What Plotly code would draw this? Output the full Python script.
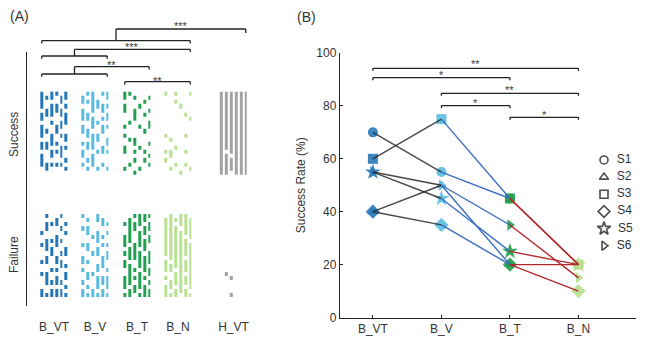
import plotly.graph_objects as go

# ---------------- data ----------------
# Panel A: per-trial outcome (1 = success, 0 = failure), 6 subjects x 20 trials per group
groups_a = ["B_VT", "B_V", "B_T", "B_N", "H_VT"]
bvt_trials = [
    "11110110111011011100",
    "01001100010011000110",
    "11011101001110110100",
    "10011000110010100100",
    "01101101101001110100",
    "11010111001101001010",
]
bv_trials = [
    "01101110110010110100",
    "10100110011011001010",
    "11111011101111011100",
    "00110001001100100010",
    "10011010110001100100",
    "11010110100110100010",
]
bt_trials = [
    "11011000101001100010",
    "10000001000100000100",
    "01001110000110101001",
    "00010000100001000010",
    "00100100010000101000",
    "01001001100010010100",
]
bn_trials = [
    "10000000001000101000",
    "00000000000100110010",
    "10100000000001000100",
    "00010000000000000001",
    "00000100001000100100",
    "10000010000000000010",
]
hvt_trials = [
    "11111111111111111111",
    "11111111111111011111",
    "11111111111111101110",
    "11111111111111111111",
    "11111111111111111111",
    "11111111111111111111",
]
sig_a = ["***", "***", "**", "**"]

# Panel B: success rate (%) per subject per condition
conditions = ["B_VT", "B_V", "B_T", "B_N"]
subjects = ["S1", "S2", "S3", "S4", "S5", "S6"]
s1_rate = [70, 55, 45, 20]
s2_rate = [40, 50, 20, 20]
s3_rate = [60, 75, 45, 20]
s4_rate = [40, 35, 20, 10]
s5_rate = [55, 45, 25, 20]
s6_rate = [55, 50, 35, 15]
sig_b = ["**", "*", "**", "*", "*"]

# ---------------- styles / layout helpers ----------------
W, H = 649, 339
FONT = "Liberation Sans, Arial, sans-serif"
TXT = "#333333"
AX = "#222222"


def px(x):
    return x / W


def py(y):
    return 1 - y / H


group_colors = ["#2377b6", "#58badf", "#22a04f", "#b9e194", "#a3a3a3"]
cond_colors = ["#2b7bba", "#5cbde2", "#25a04e", "#b7df8f"]
seg_colors = ["rgba(40,40,40,0.85)", "#3b6ec2", "#b22a2a"]
symbols = ["circle", "triangle-up", "square", "diamond", "star", "triangle-right"]
sizes = [10, 10, 10, 11, 12, 10]

GROUP_CX = [54, 95, 137, 178, 233.5]
COL_DX = 4.9
TRIAL_H = 4.15
SUCC_TOP = 91.7
FAIL_TOP = 214.0

fig = go.Figure()

# ---------------- panel A rasters ----------------
all_trials = [bvt_trials, bv_trials, bt_trials, bn_trials, hvt_trials]
for g, pats in enumerate(all_trials):
    ncol = len(pats)
    ntr = len(pats[0])
    xs = [GROUP_CX[g] + (j - (ncol - 1) / 2) * COL_DX for j in range(ncol)]
    ys_s = [SUCC_TOP + (i + 0.5) * TRIAL_H for i in range(ntr)]
    ys_f = [FAIL_TOP + (i + 0.5) * TRIAL_H for i in range(ntr)]
    z_s = [[1 if pats[j][i] == "1" else None for j in range(ncol)] for i in range(ntr)]
    z_f = [[1 if pats[j][i] == "0" else None for j in range(ncol)] for i in range(ntr)]
    c = group_colors[g]
    for ys, z in ((ys_s, z_s), (ys_f, z_f)):
        fig.add_trace(go.Heatmap(
            x=xs, y=ys, z=z, zmin=0, zmax=1,
            colorscale=[[0, c], [1, c]], showscale=False,
            xgap=2, ygap=0, hoverinfo="skip",
            xaxis="x", yaxis="y",
        ))

# ---------------- panel B ----------------
rates = [s1_rate, s2_rate, s3_rate, s4_rate, s5_rate, s6_rate]
xi = list(range(len(conditions)))
for s, r in enumerate(rates):
    fig.add_trace(go.Scatter(
        x=xi, y=r, mode="markers", xaxis="x2", yaxis="y2",
        marker=dict(symbol=symbols[s], size=sizes[s], color=cond_colors,
                    opacity=0.92, line=dict(width=0)),
        hoverinfo="skip", cliponaxis=False,
    ))
for s, r in enumerate(rates):
    for k in range(len(conditions) - 1):
        fig.add_trace(go.Scatter(
            x=[xi[k], xi[k + 1]], y=[r[k], r[k + 1]], mode="lines",
            xaxis="x2", yaxis="y2",
            line=dict(color=seg_colors[k], width=1.4),
            hoverinfo="skip",
        ))

# legend (custom)
fig.add_trace(go.Scatter(
    x=[0] * len(subjects), y=subjects, mode="markers+text",
    xaxis="x3", yaxis="y3",
    text=["  " + s for s in subjects], textposition="middle right",
    textfont=dict(size=12, color=TXT, family=FONT),
    marker=dict(symbol=[sy + "-open" for sy in symbols], size=[8, 8, 8, 9, 10, 8],
                color="black", line=dict(width=1.6, color="black")),
    hoverinfo="skip", cliponaxis=False,
))

shapes = []
annotations = []


def line(xref, x0, y0, x1, y1):
    shapes.append(dict(type="line", xref=xref, yref="paper", x0=x0, x1=x1,
                       y0=py(y0), y1=py(y1), line=dict(color=AX, width=1.3)))


def bracket(xref, x0, x1, y, dl, dr, label, star_off):
    line(xref, x0, y, x1, y)
    line(xref, x0, y, x0, y + dl)
    line(xref, x1, y, x1, y + dr)
    annotations.append(dict(xref=xref, yref="paper", x=(x0 + x1) / 2,
                            y=py(y - star_off + 3), text=label, showarrow=False,
                            xanchor="center", yanchor="middle",
                            font=dict(size=11, color="#3a3a3a", family=FONT)))


def cc(g, j):
    return GROUP_CX[g] + (j - 2.5) * COL_DX


bvt_l, bv_r = cc(0, 0), cc(1, 5)
bt_l, bt_r = cc(2, 0), cc(2, 5)
bn_r, hvt_r = cc(3, 5), cc(4, 5)
m_vt_v = (bvt_l + bv_r) / 2
m_all = (bvt_l + bn_r) / 2

bracket("x", m_all, hvt_r, 29, 11.7, 4, sig_a[0], 6)
bracket("x", bvt_l, bn_r, 40.7, 2.7, 2.7, "", 5)
bracket("x", m_vt_v, bn_r, 49.3, 6.7, 2.7, sig_a[1], 5)
bracket("x", bvt_l, bv_r, 56, 2.7, 2.7, "", 5)
bracket("x", m_vt_v, bt_r, 66.7, 7.3, 2.7, sig_a[2], 4.5)
bracket("x", bvt_l, bv_r, 74, 2.7, 2.7, "", 5)
bracket("x", bt_l, bn_r, 81.7, 2.7, 2.7, sig_a[3], 4)

bracket("x2", 0, 3, 68.3, 2.5, 2.5, sig_b[0], 6.8)
bracket("x2", 0, 2, 77.7, 2.5, 2.5, sig_b[1], 6)
bracket("x2", 1, 3, 93.3, 2.5, 2.5, sig_b[2], 5.8)
bracket("x2", 1, 2, 105.7, 2.5, 2.5, sig_b[3], 6.2)
bracket("x2", 2, 3, 117.3, 2.5, 2.5, sig_b[4], 5.8)

for txt, x, y, ang, sz in [("(A)", 19, 16.5, 0, 14), ("(B)", 306.5, 16.7, 0, 14),
                           ("Success", 14, 135, -90, 12), ("Failure", 14, 255, -90, 12)]:
    annotations.append(dict(xref="paper", yref="paper", x=px(x), y=py(y), text=txt,
                            showarrow=False, textangle=ang, xanchor="center",
                            yanchor="middle", font=dict(size=sz, color=TXT, family=FONT)))

fig.update_layout(
    width=W, height=H, margin=dict(l=0, r=0, t=0, b=0, autoexpand=False),
    paper_bgcolor="white", plot_bgcolor="white", showlegend=False,
    font=dict(family=FONT, size=12, color=TXT),
    xaxis=dict(domain=[px(27), px(262)], range=[27, 262], tickvals=GROUP_CX,
               ticktext=groups_a, showline=False, showgrid=False, zeroline=False,
               ticks="", anchor="free", position=py(317.5),
               tickfont=dict(size=12, color=TXT)),
    yaxis=dict(domain=[py(306), py(52)], range=[306, 52], showline=True,
               linecolor=AX, linewidth=1.2, showgrid=False, zeroline=False,
               showticklabels=False, ticks=""),
    xaxis2=dict(domain=[px(340), px(636)], range=[-0.48, 3.84], tickvals=xi,
                ticktext=conditions, ticks="inside", ticklen=3, tickcolor=AX,
                showline=True, linecolor=AX, linewidth=1.2, anchor="y2",
                showgrid=False, zeroline=False, tickfont=dict(size=12, color=TXT)),
    yaxis2=dict(domain=[py(317.5), py(53)], range=[0, 100],
                tickvals=[0, 20, 40, 60, 80, 100], ticks="inside", ticklen=3,
                tickcolor=AX, showline=True, linecolor=AX, linewidth=1.2,
                anchor="x2", showgrid=False, zeroline=False,
                tickfont=dict(size=12, color=TXT),
                title=dict(text="Success Rate (%)", font=dict(size=12, color=TXT),
                           standoff=8)),
    xaxis3=dict(domain=[px(596), px(612)], range=[-1, 1], visible=False,
                anchor="y3"),
    yaxis3=dict(domain=[py(254.3), py(151.4)], type="category",
                categoryorder="array", categoryarray=subjects,
                range=[5.5, -0.5], visible=False, anchor="x3"),
    shapes=shapes, annotations=annotations,
)

fig.write_html(
    "out.html",
    config={"displayModeBar": False, "staticPlot": True},
    post_script="document.body.style.margin='0';document.body.style.overflow='hidden';",
)
